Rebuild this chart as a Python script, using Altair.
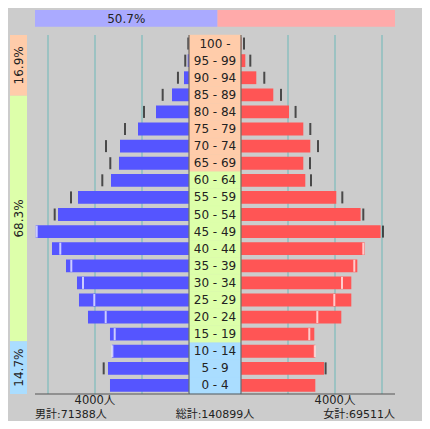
import altair as alt
import pandas as pd

# ---------------- data ----------------
ages = ["100 -\u00a0\u00a0", "95 - 99", "90 - 94", "85 - 89", "80 - 84", "75 - 79",
        "70 - 74", "65 - 69", "60 - 64", "55 - 59", "50 - 54", "45 - 49",
        "40 - 44", "35 - 39", "30 - 34", "25 - 29", "20 - 24", "15 - 19",
        "10 - 14", "5 - 9", "0 - 4"]
age_group = ["65+"] * 8 + ["15-64"] * 10 + ["0-14"] * 3

male = [8, 55, 213, 723, 1404, 2170, 2936, 2979, 3319, 4723, 5574,
        6523, 5830, 5234, 4766, 4681, 4298, 3362, 3280, 3447, 3362]
male_prev = [30, 160, 470, 1120, 1915, 2723, 3532, 3349, 3689, 5021, 5715,
             6481, 5477, 5008, 4511, 4030, 3545, 3162, 3260, 3630, None]
female = [20, 183, 651, 1374, 2043, 2651, 2949, 2651, 2736, 4055, 5089,
          5940, 5260, 4949, 4694, 4694, 4268, 3119, 3162, 3532, 3162]
female_prev = [128, 396, 991, 1702, 2323, 2949, 3277, 2936, 2979, 4311, 5204,
               6043, 5204, 4821, 4298, 3970, 3247, 2906, 3140, 3600, None]

sex_labels = ["男", "女"]
sex_share = [50.7, 49.3]

band_groups = ["65+", "15-64", "0-14"]
band_share = [16.9, 68.3, 14.7]

grid_values = [2000, 4000, 6000]
tick_values = [4000]

male_total = 71388
female_total = 69511
grand_total = 140899

# ---------------- style / layout ----------------
FONT = "DejaVu Sans, Noto Sans CJK JP"
XMAX = 6553
XL = [181, 27]
XR = [233, 387]
YR = [27, 386]
group_colors = ["#FFCCAA", "#DDFFAA", "#AADDFF"]
GRID = "#8CBFBF"

rows = pd.DataFrame({
    "age": ages, "group": age_group,
    "male": male, "male_prev": male_prev,
    "female": female, "female_prev": female_prev,
})
one = pd.DataFrame({"k": [0]})

xm = alt.Scale(domain=[0, XMAX], range=XL, nice=False, zero=False)
xf = alt.Scale(domain=[0, XMAX], range=XR, nice=False, zero=False)
ysc_bar = alt.Scale(domain=ages, range=YR, paddingInner=0.25, paddingOuter=0.125)
ysc_col = alt.Scale(domain=ages, range=YR, paddingInner=0, paddingOuter=0)
gcol = alt.Scale(domain=band_groups, range=group_colors)

layers = []

# gridlines
gdf = pd.DataFrame({"v": grid_values})
for sc in (xm, xf):
    layers.append(alt.Chart(gdf).mark_rule(color=GRID, strokeWidth=1.5).encode(
        x=alt.X("v:Q", scale=sc, axis=None), y=alt.value(YR[0]), y2=alt.value(YR[1])))

# axis lines
for a, b in ((27, 181), (233, 387)):
    layers.append(alt.Chart(one).mark_rule(color="#555555", strokeWidth=1).encode(
        x=alt.value(a), x2=alt.value(b), y=alt.value(386)))

# bars and previous markers
for col, prev, sc, c in (("male", "male_prev", xm, "#5555FF"),
                         ("female", "female_prev", xf, "#FF5555")):
    layers.append(alt.Chart(rows).mark_bar(color=c).encode(
        x=alt.X(f"{col}:Q", scale=sc, axis=None),
        y=alt.Y("age:N", scale=ysc_bar, axis=None)))
    layers.append(alt.Chart(rows).transform_filter(f"isValid(datum.{prev})").mark_tick(
        orient="vertical", thickness=2, size=12).encode(
        x=alt.X(f"{prev}:Q", scale=sc, axis=None),
        y=alt.Y("age:N", scale=ysc_bar, axis=None),
        color={"condition": {"test": f"datum.{prev} < datum.{col}", "value": "white"},
               "value": "#111111"}))

# centre column
layers.append(alt.Chart(rows).mark_rect(strokeWidth=0.5).encode(
    x=alt.value(181), x2=alt.value(233),
    y=alt.Y("age:N", scale=ysc_col, axis=None),
    color=alt.Color("group:N", scale=gcol, legend=None),
    stroke=alt.Stroke("group:N", scale=gcol, legend=None)))
layers.append(alt.Chart(rows).mark_text(font=FONT, fontSize=12, color="#222222").encode(
    x=alt.value(207), y=alt.Y("age:N", scale=ysc_col, axis=None), text="age:N"))
for a in (181, 233):
    layers.append(alt.Chart(one).mark_rule(color="#555555", strokeWidth=1).encode(
        x=alt.value(a), y=alt.value(YR[0]), y2=alt.value(YR[1])))
layers.append(alt.Chart(one).mark_rule(color="#555555", strokeWidth=1).encode(
    x=alt.value(181), x2=alt.value(233), y=alt.value(YR[1])))

# top share bar
top_df = pd.DataFrame({"sex": sex_labels, "share": sex_share, "order": [0, 1]})
top = alt.Chart(top_df).transform_window(
    cum="sum(share)", sort=[{"field": "order"}], frame=[None, 0]
).transform_calculate(start="datum.cum - datum.share",
                      mid="datum.cum - datum.share / 2",
                      label="format(datum.share, '.1f') + '%'")
xt = alt.Scale(domain=[0, 100], range=[27, 387], nice=False, zero=False)
layers.append(top.mark_rect().encode(
    x=alt.X("start:Q", scale=xt, axis=None), x2="cum:Q",
    y=alt.value(2), y2=alt.value(18.7),
    color=alt.Color("sex:N", scale=alt.Scale(domain=sex_labels, range=["#AAAAFF", "#FFAAAA"]), legend=None)))
layers.append(top.transform_filter("datum.order == 0").mark_text(
    font=FONT, fontSize=12, color="#222222").encode(
    x=alt.X("mid:Q", scale=xt, axis=None), y=alt.value(10.5), text="label:N"))

# left age-band share column
band_df = pd.DataFrame({"group": band_groups, "share": band_share, "order": [0, 1, 2]})
band = alt.Chart(band_df).transform_window(
    cum="sum(share)", sort=[{"field": "order"}], frame=[None, 0]
).transform_calculate(start="datum.cum - datum.share",
                      mid="datum.cum - datum.share / 2",
                      label="format(datum.share, '.1f') + '%'")
yb = alt.Scale(domain=[0, sum(band_share)], range=YR, nice=False, zero=False)
layers.append(band.mark_rect().encode(
    y=alt.Y("start:Q", scale=yb, axis=None), y2="cum:Q",
    x=alt.value(2), x2=alt.value(19),
    color=alt.Color("group:N", scale=gcol, legend=None)))
layers.append(band.mark_text(font=FONT, fontSize=12, angle=270, color="#222222").encode(
    y=alt.Y("mid:Q", scale=yb, axis=None), x=alt.value(10.5), text="label:N"))

# axis labels
tdf = pd.DataFrame({"v": tick_values})
for sc in (xm, xf):
    layers.append(alt.Chart(tdf).transform_calculate(label="datum.v + '人'").mark_text(
        font=FONT, fontSize=11.5, color="#222222").encode(
        x=alt.X("v:Q", scale=sc, axis=None), y=alt.value(392.5), text="label:N"))

# totals
for txt, xpos, al in ((f"男計:{male_total}人", 27, "left"),
                      (f"総計:{grand_total}人", 207, "center"),
                      (f"女計:{female_total}人", 387, "right")):
    layers.append(alt.Chart(pd.DataFrame({"t": [txt]})).mark_text(
        font=FONT, fontSize=11, align=al, color="#222222").encode(
        x=alt.value(xpos), y=alt.value(406.5), text="t:N"))

chart = alt.layer(*layers).resolve_scale(
    x="independent", y="independent", color="independent", stroke="independent"
).properties(
    width=414, height=413, padding=0, background="#CCCCCC",
    autosize=alt.AutoSizeParams(type="none")
).configure_view(stroke=None)

chart.save("out.html", embed_options={"renderer": "svg", "actions": False})
